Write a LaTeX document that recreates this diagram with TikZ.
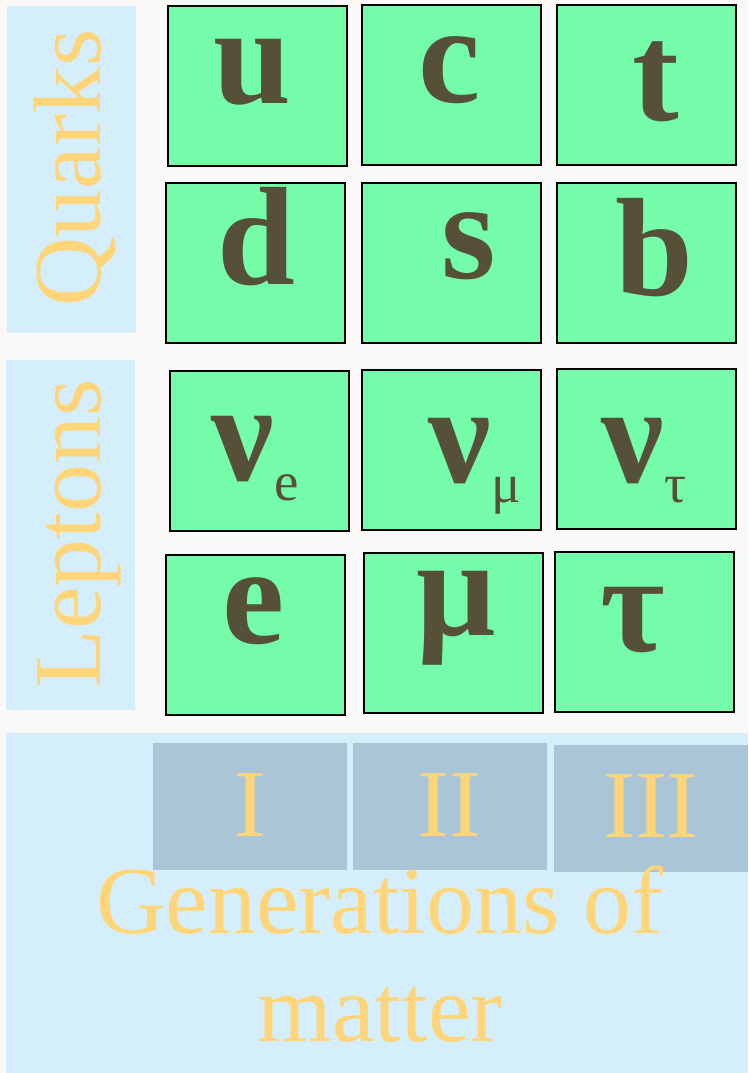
\documentclass[tikz,border=0pt]{standalone}
\usepackage{fontspec}
\setmainfont{Liberation Serif}
\definecolor{paper}{HTML}{FAF9F7}
\definecolor{panelblue}{HTML}{D5EEFC}
\definecolor{genblue}{HTML}{A9C5D6}
\definecolor{cellgreen}{HTML}{75FCAA}
\definecolor{ink}{HTML}{575039}
\definecolor{gold}{HTML}{FFD57A}
\newcommand{\subidx}[1]{\raisebox{-20pt}{\fontsize{55}{55}\mdseries\selectfont #1}}
\begin{document}
\begin{tikzpicture}[
  x=1pt, y=-1pt,
  panel/.style={fill=panelblue, inner sep=0pt},
  cell/.style={draw, line width=2pt, fill=cellgreen, inner sep=0pt, minimum width=179pt, minimum height=160pt},
  glyph/.style={anchor=base, text=ink, inner sep=0pt, text height=72pt, text depth=20pt, font=\fontsize{140}{140}\selectfont\bfseries},
  genbox/.style={fill=genblue, inner sep=0pt, minimum width=194pt, minimum height=127pt},
  tag/.style={text=gold, inner sep=0pt, font=\fontsize{96}{108}\selectfont}
]
\fill[paper] (0,0) rectangle (748,1073);
\useasboundingbox (0,0) rectangle (748,1073);

\node[panel, minimum width=129pt, minimum height=327pt] (quarkpanel) at (71.5,169.5) {};
\node[panel, minimum width=129pt, minimum height=350pt] (leptonpanel) at (70.5,535) {};
\node[panel, minimum width=742pt, minimum height=340pt] (genpanel) at (377,903) {};
\node[tag, anchor=base, rotate=90] (quarks) at (100,168) {Quarks};
\node[tag, anchor=base, rotate=90] (leptons) at (100,534) {Leptons};

\node[cell] (cu) at (257.5,86) {};
\node[cell] (cc) at (451,85) {};
\node[cell] (ct) at (646.5,85) {};
\node[cell] (cd) at (255.5,262.5) {};
\node[cell] (cs) at (451,262.5) {};
\node[cell] (cb) at (646.5,262.5) {};
\node[cell] (cne) at (259,451) {};
\node[cell] (cnm) at (451,450) {};
\node[cell] (cnt) at (646.5,448.5) {};
\node[cell] (ce) at (255,635) {};
\node[cell] (cm) at (453,633) {};
\node[cell] (ctau) at (644.5,632) {};

\node[glyph] (u) at (252,103) {u};
\node[glyph] (c) at (450,102) {c};
\node[glyph] (t) at (656,120) {t};
\node[glyph] (d) at (256,284) {d};
\node[glyph] (s) at (469,278) {s};
\node[glyph] (b) at (654,295) {b};
\node[glyph] (nue) at (255,480) {ν\subidx{e}};
\node[glyph] (numu) at (475,482) {ν\subidx{μ}};
\node[glyph] (nutau) at (644,482) {ν\subidx{τ}};
\node[glyph] (e) at (254,643) {e};
\node[glyph] (mu) at (456,635) {μ};
\node[glyph] (tau) at (633,651) {τ};

\node[genbox] (g1) at (249.5,806) {};
\node[genbox] (g2) at (449.5,806) {};
\node[genbox] (g3) at (651,808) {};
\node[tag, anchor=base] (n1) at (250,836) {I};
\node[tag, anchor=base] (n2) at (449,836) {II};
\node[tag, anchor=base] (n3) at (651,837) {III};
\node[tag, anchor=base, align=center] (gens) at (380,1041) {Generations of\\matter};
\end{tikzpicture}
\end{document}
